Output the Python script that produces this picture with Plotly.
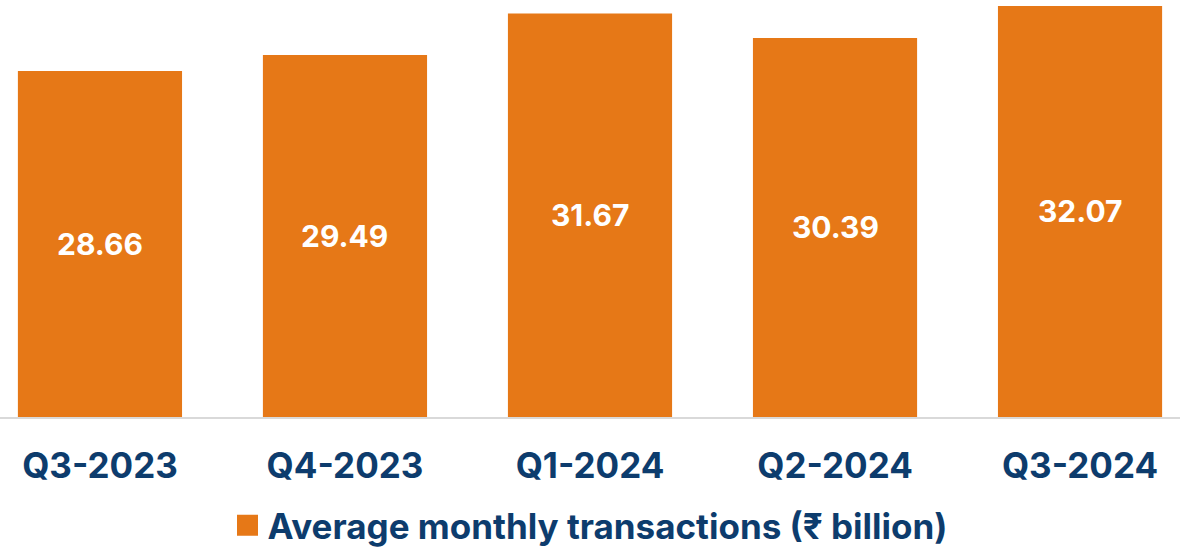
import plotly.graph_objects as go

categories = ["Q3-2023", "Q4-2023", "Q1-2024", "Q2-2024", "Q3-2024"]
values = [28.66, 29.49, 31.67, 30.39, 32.07]
labels = ["28.66", "29.49", "31.67", "30.39", "32.07"]
series_name = "Average monthly transactions (₹ billion)"

ORANGE = "#E67817"
NAVY = "#0D3C6D"
FONT = "Inter"
Y_MIN, Y_MAX = 10.5, 32.38

fig = go.Figure()
fig.add_trace(go.Bar(
    x=categories,
    y=values,
    name=series_name,
    marker=dict(color=ORANGE, line=dict(width=0)),
    showlegend=False,
    hovertemplate="%{x}: %{y}<extra></extra>",
))
# legend entry (larger square swatch)
fig.add_trace(go.Scatter(
    x=[None], y=[None],
    mode="markers",
    name=series_name,
    marker=dict(symbol="square", size=16, color=ORANGE,
                line=dict(color=ORANGE, width=5)),
    showlegend=True,
))

# value labels centred in the visible part of each bar
for c, v, t in zip(categories, values, labels):
    fig.add_annotation(
        x=c, y=(Y_MIN + v) / 2, text=t, showarrow=False,
        xref="x", yref="y",
        font=dict(family=FONT, size=30, color="white", weight="bold"),
    )

fig.update_layout(
    width=1180,
    height=552,
    margin=dict(l=0, r=0, t=0, b=135, autoexpand=False),
    paper_bgcolor="white",
    plot_bgcolor="white",
    bargap=0.33,
    showlegend=True,
    legend=dict(
        orientation="h",
        x=0.5, xanchor="center",
        yref="container",
        y=0.048, yanchor="middle",
        font=dict(family=FONT, size=35, color=NAVY, weight="bold"),
        itemwidth=30,
        borderwidth=0,
    ),
    xaxis=dict(
        type="category",
        range=[-0.408, 4.408],
        showline=True,
        linecolor="#D9D9D9",
        linewidth=2,
        ticks="",
        tickfont=dict(family=FONT, size=35, color=NAVY, weight="bold"),
        showgrid=False,
        ticklabelstandoff=17,
    ),
    yaxis=dict(
        range=[Y_MIN, Y_MAX],
        visible=False,
        showgrid=False,
        zeroline=False,
    ),
)

fig.write_html("out.html", config={"displayModeBar": False},
               post_script="document.body.style.margin='0';")
